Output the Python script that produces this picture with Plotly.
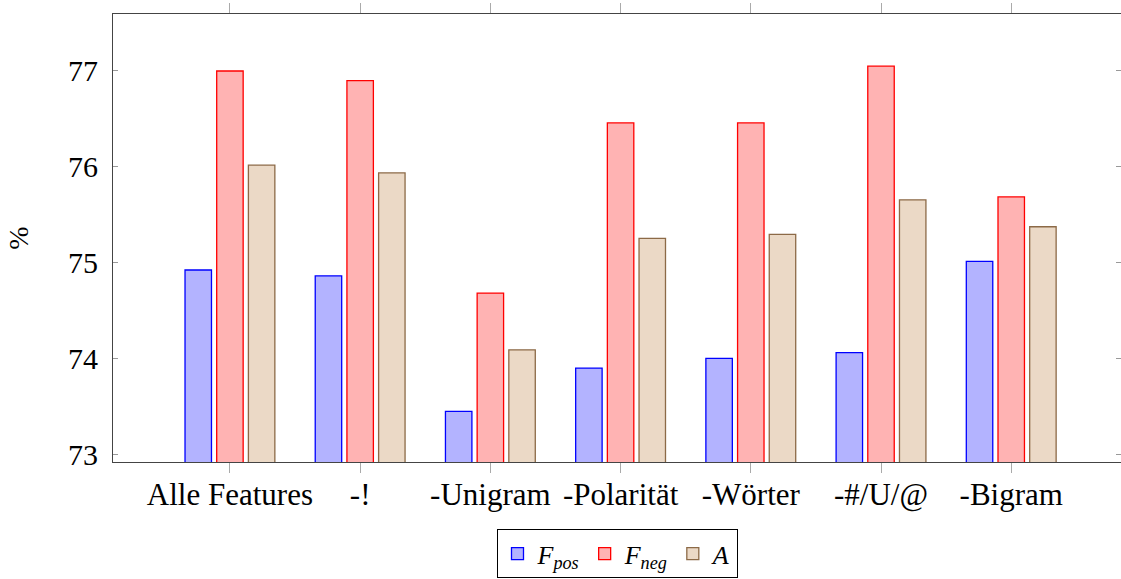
import plotly.graph_objects as go

categories = ["Alle Features", "-!", "-Unigram", "-Polarität", "-Wörter", "-#/U/@", "-Bigram"]
f_pos = [74.92, 74.86, 73.45, 73.90, 74.00, 74.06, 75.01]
f_neg = [76.99, 76.89, 74.68, 76.45, 76.45, 77.04, 75.68]
acc = [76.01, 75.93, 74.09, 75.25, 75.29, 75.65, 75.37]
y_ticks = [73, 74, 75, 76, 77]

FONT = "Liberation Serif, Times New Roman, serif"

fig = go.Figure()
fig.add_trace(go.Bar(x=categories, y=f_pos, name="<i>F</i><sub><i>pos</i></sub>",
                     marker=dict(color="#b3b3ff", line=dict(color="#0000ff", width=1.3))))
fig.add_trace(go.Bar(x=categories, y=f_neg, name="<i>F</i><sub><i>neg</i></sub>",
                     marker=dict(color="#ffb3b3", line=dict(color="#ff0000", width=1.3))))
fig.add_trace(go.Bar(x=categories, y=acc, name="<i>A</i>",
                     marker=dict(color="#ebd9c6", line=dict(color="#8c6a47", width=1.3))))

fig.update_layout(
    width=1121, height=579,
    margin=dict(l=113, r=0, t=14, b=117, autoexpand=False),
    paper_bgcolor="white", plot_bgcolor="white",
    barmode="group", bargap=0.27, bargroupgap=0.165,
    font=dict(family=FONT, size=28, color="black"),
    showlegend=True,
    legend=dict(orientation="h", x=0.5, xanchor="center", y=-0.150, yanchor="top",
                bordercolor="black", borderwidth=1, bgcolor="white",
                font=dict(family=FONT, size=26), itemwidth=30, tracegroupgap=0),
    xaxis=dict(type="category", range=[-0.898, 6.843], showgrid=False, automargin=False,
               showline=True, linecolor="#444", linewidth=1, mirror="ticks",
               ticks="outside", ticklen=10, tickcolor="#aaa", tickwidth=1,
               tickfont=dict(family=FONT, size=31), ticklabelstandoff=-5),
    yaxis=dict(range=[72.923, 77.583], tickvals=y_ticks, showgrid=False, zeroline=False,
               automargin=False,
               showline=True, linecolor="#444", linewidth=1, mirror=False,
               ticks="inside", ticklen=5, tickcolor="#999", tickwidth=1,
               tickfont=dict(family=FONT, size=30), ticklabelstandoff=8,
               title=dict(text="%", font=dict(family=FONT, size=28), standoff=31)),
    yaxis2=dict(range=[72.923, 77.583], tickvals=y_ticks, overlaying="y", side="right",
                automargin=False,
                showgrid=False, zeroline=False, showline=False, showticklabels=False,
                ticks="inside", ticklen=5, tickcolor="#999", tickwidth=1),
)
fig.add_trace(go.Scatter(x=[categories[0]], y=[y_ticks[0]], yaxis="y2", mode="markers",
                         marker=dict(opacity=0), showlegend=False, hoverinfo="skip"))

post = ("document.body.style.margin='0px';document.body.style.padding='0px';"
        "document.body.style.overflow='hidden';"
        "Plotly.Plots.resize(document.getElementById('{plot_id}'));")
fig.write_html("out.html", config={"responsive": False, "displayModeBar": False},
               post_script=post)
